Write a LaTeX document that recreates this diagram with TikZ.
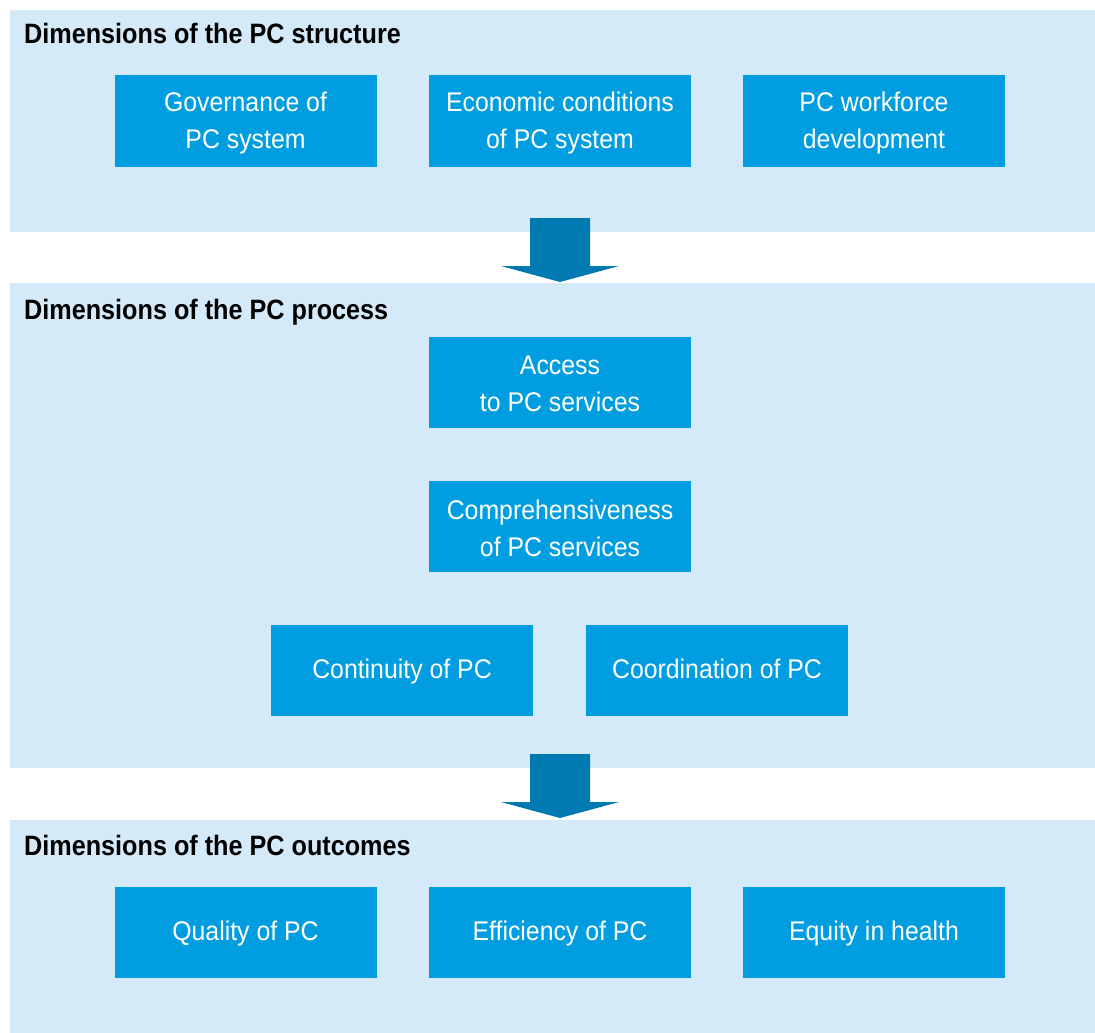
\documentclass[tikz,border=0pt]{standalone}
\usepackage{fontspec}
\setmainfont{Liberation Sans}[FakeStretch=0.92]
\newfontfamily\titlefont{Liberation Sans Bold}[FakeStretch=0.9]
\definecolor{panel}{HTML}{D4EAF8}
\definecolor{boxblue}{HTML}{009EE0}
\definecolor{arrowblue}{HTML}{007AB0}
\begin{document}
\begin{tikzpicture}[x=1pt,y=-1pt,
  panelbox/.style={fill=panel,draw=none},
  itembox/.style={fill=boxblue,draw=none,minimum width=262pt,minimum height=91pt,inner sep=0pt},
  itemtext/.style={text=white,align=center,inner sep=0pt,yshift=-2pt,font=\fontsize{27}{37}\selectfont},
  paneltitle/.style={anchor=base west,inner sep=0pt,font=\fontsize{28}{32}\titlefont},
  bigarrow/.style={fill=arrowblue,draw=none}]
\useasboundingbox (0,0) rectangle (1095,1033);
% panels
\fill[panelbox] (10,10) rectangle (1095,232);
\fill[panelbox] (10,283) rectangle (1095,768);
\fill[panelbox] (10,820) rectangle (1095,1033);
% titles
\node[paneltitle] (t1) at (24,44) {Dimensions of the PC structure};
\node[paneltitle] (t2) at (24,319) {Dimensions of the PC process};
\node[paneltitle] (t3) at (24,855) {Dimensions of the PC outcomes};
% structure boxes
\node[itembox,label={[itemtext]center:Governance of\\PC system}] (gov) at (245.5,121) {};
\node[itembox,label={[itemtext]center:Economic conditions\\of PC system}] (eco) at (560,121) {};
\node[itembox,label={[itemtext]center:PC workforce\\development}] (wf) at (874,121) {};
% process boxes
\node[itembox,label={[itemtext]center:Access\\to PC services}] (acc) at (560,382) {};
\node[itembox,label={[itemtext]center:Comprehensiveness\\of PC services}] (comp) at (560,526) {};
\node[itembox,label={[itemtext]center:Continuity of PC\vphantom{y}}] (cont) at (402,670) {};
\node[itembox,label={[itemtext]center:Coordination of PC\vphantom{y}}] (coord) at (717,670) {};
% outcomes boxes
\node[itembox,label={[itemtext]center:Quality of PC}] (qual) at (245.5,932) {};
\node[itembox,label={[itemtext]center:Efficiency of PC\vphantom{y}}] (eff) at (560,932) {};
\node[itembox,label={[itemtext]center:Equity in health}] (eq) at (874,932) {};
% arrows
\fill[bigarrow] (530,218) -- (590,218) -- (590,266) -- (619,266) -- (560,282) -- (501,266) -- (530,266) -- cycle;
\fill[bigarrow] (530,754) -- (590,754) -- (590,802) -- (619,802) -- (560,818) -- (501,802) -- (530,802) -- cycle;
\end{tikzpicture}
\end{document}
